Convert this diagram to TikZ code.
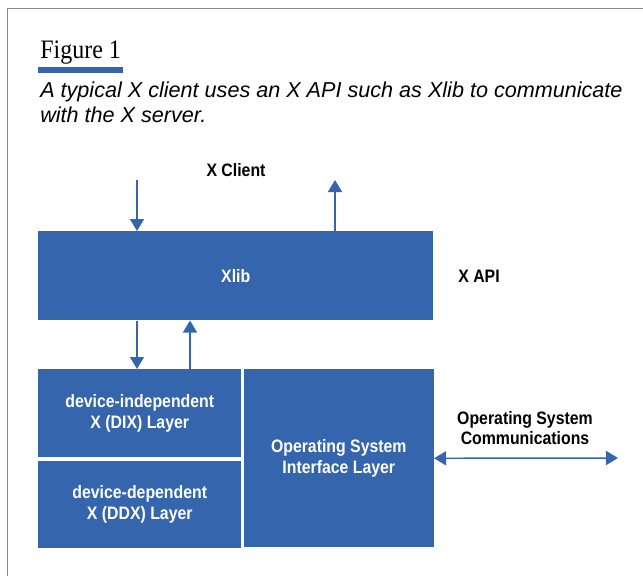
\documentclass[tikz,border=0pt]{standalone}
\usepackage{fontspec}
\setmainfont{Liberation Sans}
\newfontfamily\figfont[FakeStretch=0.9]{Liberation Serif}
\newfontfamily\labelfont[FakeStretch=0.88]{Liberation Sans}
\usetikzlibrary{arrows.meta,positioning}
\definecolor{layerblue}{HTML}{3465AD}
\definecolor{framegray}{HTML}{8A8A8A}
\tikzset{
  layer/.style={fill=layerblue, draw=none, inner sep=0pt, text=white, align=center,
    font=\labelfont\bfseries\fontsize{13.5}{15.75}\selectfont},
  tag/.style={text=black, align=center, inner sep=0pt,
    font=\labelfont\bfseries\fontsize{13.5}{15}\selectfont},
  flow/.style={draw=layerblue, line width=1.1pt, -{Triangle[width=10.5pt,length=9pt]}},
}

\begin{document}
\begin{tikzpicture}[x=0.75pt,y=-0.75pt]
\useasboundingbox (0,0) rectangle (643,576);

% Frame and heading
\draw[framegray, line width=1.1pt] (7.5,576) -- (7.5,8.5) -- (643,8.5);
\node[anchor=base west, inner sep=0pt, font=\figfont\fontsize{20}{20}\selectfont] (figtitle) at (40,58) {Figure 1};
\fill[layerblue] (38,67) rectangle (123,73);
\node[anchor=north west, inner sep=0pt, align=left, font=\itshape\fontsize{16.2}{18.75}\selectfont] (caption) at (40,82)
  {A typical X client uses an X API such as Xlib to communicate\\with the X server.};

% Layers
\node[layer, anchor=north west, minimum width=296.25pt, minimum height=66.75pt] (xlib) at (38,231) {Xlib};
\node[layer, anchor=north west, minimum width=152.25pt, minimum height=66pt] (dix) at (38,369)
  {device-independent\\X (DIX) Layer};
\node[layer, below=2.25pt of dix.south west, anchor=north west, minimum width=152.25pt, minimum height=65.25pt] (ddx)
  {device-dependent\\X (DDX) Layer};
\node[layer, right=1.5pt of dix.north east, anchor=north west, minimum width=142.5pt, minimum height=133.5pt] (os)
  {Operating System\\Interface Layer};

% Labels
\node[tag] (client) at (236,170) {X Client};
\node[tag] (api) at (479,276) {X API};
\node[tag] (comm) at (525,428) {Operating System\\Communications};

% Arrows
\path (137,180) coordinate (clientin);
\path (335,180) coordinate (clientout);
\path (190,369) coordinate (dixup);
\path (618,458) coordinate (oscomm);
\draw[flow] (clientin) -- (clientin |- xlib.north);
\draw[flow] (clientout |- xlib.north) -- (clientout);
\draw[flow] (xlib.south -| clientin) -- (dix.north -| clientin);
\draw[flow] (dixup) -- (dixup |- xlib.south);
\draw[flow, {Triangle[width=10.5pt,length=9pt]}-{Triangle[width=10.5pt,length=9pt]}] (os.east) -- (oscomm);
\end{tikzpicture}
\end{document}
